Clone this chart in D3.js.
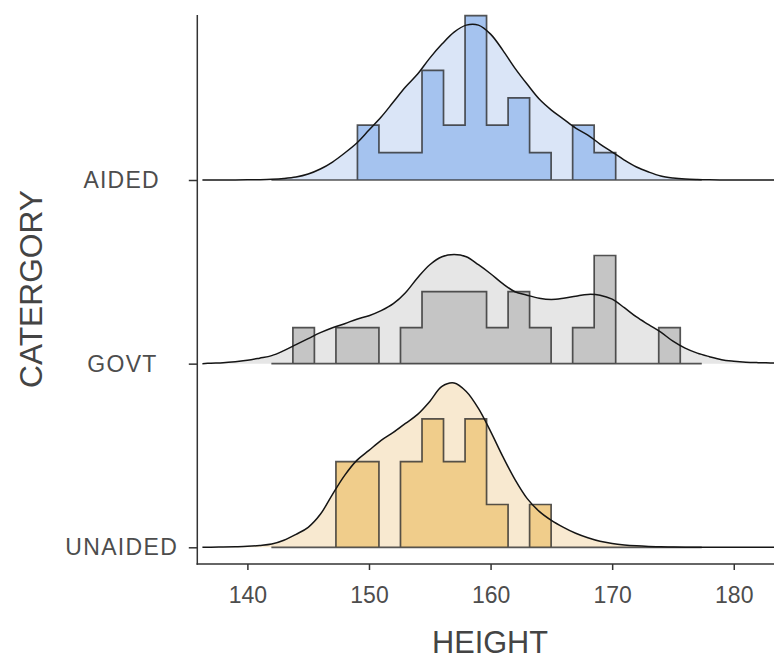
<!DOCTYPE html>
<html><head><meta charset="utf-8">
<script src="https://cdn.jsdelivr.net/npm/d3@7"></script>
<style>body{margin:0;background:#fff} svg{display:block}</style>
</head><body><svg id="c" width="774" height="662"></svg>
<script>
// ---------- data ----------
const categories = ["AIDED", "GOVT", "UNAIDED"];
const xTicks = [140, 150, 160, 170, 180];
const binEdges = [141.97,143.74,145.51,147.28,149.05,150.82,152.59,154.36,156.13,157.90,
                  159.67,161.44,163.21,164.98,166.75,168.52,170.29,172.06,173.83,175.60,177.37];
const countsAided   = [0,0,0,0,2,1,1,4,2,6,2,3,1,0,2,1,0,0,0,0];
const countsGovt    = [0,1,0,1,1,0,1,2,2,2,1,2,1,0,1,3,0,0,1,0];
const countsUnaided = [0,0,0,2,2,0,2,3,2,3,1,0,1,0,0,0,0,0,0,0];
// density curve (relative heights) sampled at densityX
const densityX = [136.3,137,138,139,140,141,142,143,144,145,146,147,148,149,150,151,152,153,154,155,156,157,158,159,160,
                  161,162,163,164,165,166,167,168,169,170,171,172,173,174,175,176,177,178,179,180,181,182,183,184,185];
const densityAided = [0,0.02,0.05,0.1,0.2,0.35,0.7,1.5,3,6,11,18,27,37,50,63,78,93,106,122,136,148,155,155,146,
                      130,112,96,81,70,61,52,45,36,28,20,13,8,4,2,0.9,0.4,0.15,0.05,0,0,0,0,0,0];
const densityGovt = [0,0.5,1,2,3.3,5.5,8,13,19,25,31,36,40,44.5,48,53,60,71,86,99,107,109.3,107,99,90,
                     80,72,68.5,65.5,64.3,65.5,67.5,69.3,68.5,64.5,56,46.7,39,31.5,22.5,15.5,10.5,7,4,2.5,1.5,1,0.7,0.4,0.3];
const densityUnaided = [0,0.1,0.3,0.6,1,1.8,3.2,7,13,20,33,53,72,87,97,107,115,124,133,146,161,164.5,156,139,116,
                        91,68,49,36,27,20,14,9.5,6,3.8,2.4,1.5,0.9,0.5,0.3,0.15,0.1,0,0,0,0,0,0,0,0];

const series = [
  {name:categories[0], counts:countsAided,   dens:densityAided,   dFill:"#dae5f7", hFill:"#a5c3ef"},
  {name:categories[1], counts:countsGovt,    dens:densityGovt,    dFill:"#e6e6e6", hFill:"#c5c5c5"},
  {name:categories[2], counts:countsUnaided, dens:densityUnaided, dFill:"#f8e9d0", hFill:"#f0cd8b"}
];

// ---------- layout ----------
const svg = d3.select("#c");
const panel = {left:197.3, top:15, bottom:564, right:783};
const x = d3.scaleLinear().domain([135.88, 184.05]).range([panel.left, panel.right]);
const y = d3.scalePoint().domain(categories.slice().reverse()).range([547.3, 180]);
const step = y.step();
const scaleFactor = 0.895;
// right edge of each category label (labels are not flush in the original)
const labelRight = {AIDED:158.5, GOVT:156.3, UNAIDED:176.8};

series.forEach(s => {
  const n = d3.sum(s.counts);
  s.hist = s.counts.map(c => c / n / (binEdges[1]-binEdges[0]));
});
const histMax = d3.max(series, s => d3.max(s.hist));
const densMax = d3.max(series, s => d3.max(s.dens));
const hH = d3.scaleLinear().domain([0, histMax]).range([0, scaleFactor*step]);
const hD = d3.scaleLinear().domain([0, densMax]).range([0, scaleFactor*step]);

svg.append("defs").append("clipPath").attr("id","pc")
  .append("rect").attr("x",panel.left).attr("y",0).attr("width",panel.right-panel.left).attr("height",panel.bottom);

const g = svg.append("g").attr("clip-path","url(#pc)");

series.forEach(s => {
  const base = y(s.name);
  const pts = densityX.map((xv,i) => ({x:xv, h:s.dens[i]}));
  const area = d3.area().x(d=>x(d.x)).y0(base).y1(d=>base-hD(d.h)).curve(d3.curveCatmullRom.alpha(0.5));
  const line = d3.line().x(d=>x(d.x)).y(d=>base-hD(d.h)).curve(d3.curveCatmullRom.alpha(0.5));
  g.append("path").attr("d", area(pts)).attr("fill", s.dFill);

  const hp = [{x:binEdges[0], h:0}];
  s.hist.forEach((v,k) => { hp.push({x:binEdges[k], h:v}); hp.push({x:binEdges[k+1], h:v}); });
  hp.push({x:binEdges[binEdges.length-1], h:0});
  const hline = d3.line().x(d=>x(d.x)).y(d=>base-hH(d.h));
  g.append("path").attr("d", hline(hp)+"Z").attr("fill", s.hFill)
    .attr("stroke","rgba(40,40,40,0.78)").attr("stroke-width",1.7).attr("stroke-linejoin","miter");

  g.append("path").attr("d", line(pts)).attr("fill","none").attr("stroke","#151515").attr("stroke-width",1.5);
});

// ---------- axes ----------
const axisColor = "#333";
const font = "Liberation Sans, Arial, sans-serif";
const xAxis = svg.append("g").attr("transform",`translate(0,${panel.bottom})`)
  .call(d3.axisBottom(x).tickValues(xTicks).tickSize(6).tickSizeOuter(0).tickFormat(d3.format("d")));
xAxis.select(".domain").remove();
xAxis.selectAll(".tick line").attr("stroke",axisColor).attr("stroke-width",1.5);
xAxis.selectAll(".tick text").attr("fill","#4d4d4d").attr("font-family",font)
  .attr("font-size",23).attr("dy","0.71em").attr("y",23);

const yAxis = svg.append("g").attr("transform",`translate(${panel.left},0)`)
  .call(d3.axisLeft(y).tickSize(8.5).tickSizeOuter(0));
yAxis.select(".domain").remove();
yAxis.selectAll(".tick line").attr("stroke",axisColor).attr("stroke-width",1.5);
yAxis.selectAll(".tick text").attr("fill","#4d4d4d").attr("font-family",font)
  .attr("font-size",23).attr("text-anchor","end")
  .attr("x", d => labelRight[d] - panel.left)
  .attr("textLength", d => ({AIDED:75, GOVT:69, UNAIDED:111.5})[d]).attr("lengthAdjust","spacing");

svg.append("line").attr("x1",panel.left).attr("x2",panel.left).attr("y1",panel.top).attr("y2",panel.bottom+0.75)
  .attr("stroke",axisColor).attr("stroke-width",1.5);
svg.append("line").attr("x1",panel.left-0.75).attr("x2",panel.right).attr("y1",panel.bottom).attr("y2",panel.bottom)
  .attr("stroke",axisColor).attr("stroke-width",1.5);

svg.append("text").text("HEIGHT").attr("x",490).attr("y",653).attr("text-anchor","middle")
  .attr("fill","#444").attr("font-family",font).attr("font-size",31)
  .attr("textLength",116).attr("lengthAdjust","spacingAndGlyphs");
svg.append("text").text("CATERGORY").attr("transform","translate(42,289) rotate(-90)").attr("text-anchor","middle")
  .attr("fill","#444").attr("font-family",font).attr("font-size",32)
  .attr("textLength",198).attr("lengthAdjust","spacingAndGlyphs");
</script></body></html>
